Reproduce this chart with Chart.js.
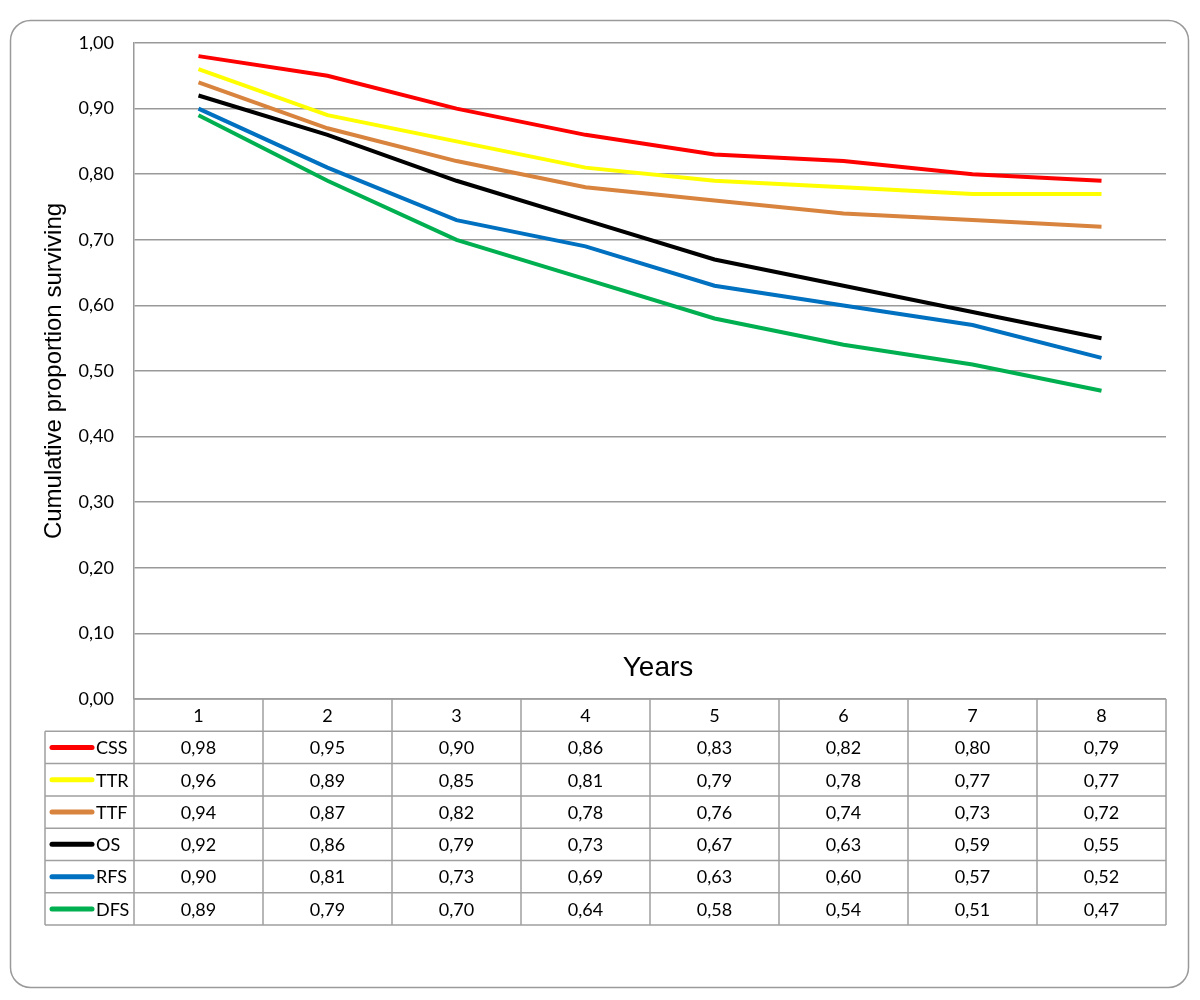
<!DOCTYPE html>
<html>
<head>
<meta charset="utf-8">
<script src="https://cdn.jsdelivr.net/npm/chart.js@4/dist/chart.umd.min.js"></script>
<style>
  body { margin: 0; background: #fff; }
  #wrap { width: 1200px; height: 1000px; position: relative; }
</style>
</head>
<body>
<div id="wrap"><canvas id="myChart"></canvas></div>
<script>
'use strict';

// chart data
var years = ['1', '2', '3', '4', '5', '6', '7', '8'];
var seriesNames = ['CSS', 'TTR', 'TTF', 'OS', 'RFS', 'DFS'];
var css = [0.98, 0.95, 0.90, 0.86, 0.83, 0.82, 0.80, 0.79];
var ttr = [0.96, 0.89, 0.85, 0.81, 0.79, 0.78, 0.77, 0.77];
var ttf = [0.94, 0.87, 0.82, 0.78, 0.76, 0.74, 0.73, 0.72];
var os = [0.92, 0.86, 0.79, 0.73, 0.67, 0.63, 0.59, 0.55];
var rfs = [0.90, 0.81, 0.73, 0.69, 0.63, 0.60, 0.57, 0.52];
var dfs = [0.89, 0.79, 0.70, 0.64, 0.58, 0.54, 0.51, 0.47];
var seriesValues = [css, ttr, ttf, os, rfs, dfs];
var seriesColors = ['#ff0000', '#ffff00', '#d8843e', '#000000', '#0070c0', '#00b050'];

var gridColor = '#999999';
var tableFont = '18px Lato, "Open Sans", sans-serif';

function fmt(v) {
    return v.toFixed(2).replace('.', ',');
}

// outer frame, "Years" label and the data table under the plot
var tablePlugin = {
    id: 'dataTable',
    beforeDraw: function (chart) {
        var c = chart.ctx;
        c.save();
        c.strokeStyle = '#9a9a9a';
        c.lineWidth = 1.5;
        c.beginPath();
        c.roundRect(10.5, 20.5, 1178, 967, 20);
        c.stroke();
        c.restore();
    },
    afterDraw: function (chart) {
        var c = chart.ctx;
        var area = chart.chartArea;
        var x = chart.scales.x;
        var colW = (area.right - area.left) / years.length;
        var rowH = 32.3;
        var top = area.bottom;
        var keyLeft = 45;

        c.save();
        // axis title inside plot
        c.fillStyle = '#000';
        c.font = '28px "Liberation Sans", Arial, sans-serif';
        c.textAlign = 'center';
        c.textBaseline = 'middle';
        c.fillText('Years', 658, 668);

        // table lines
        c.strokeStyle = '#a0a0a0';
        c.lineWidth = 1.5;
        c.beginPath();
        var bottom = top + rowH * (seriesNames.length + 1);
        c.moveTo(area.left, top);
        c.lineTo(area.right, top);
        for (var r = 1; r <= seriesNames.length + 1; r++) {
            c.moveTo(keyLeft, top + rowH * r);
            c.lineTo(area.right, top + rowH * r);
        }
        c.moveTo(keyLeft, top + rowH);
        c.lineTo(keyLeft, bottom);
        for (var k = 0; k <= years.length; k++) {
            var vx = area.left + colW * k;
            c.moveTo(vx, top);
            c.lineTo(vx, bottom);
        }
        c.stroke();

        // header
        c.font = tableFont;
        c.fillStyle = '#000';
        c.textAlign = 'center';
        c.textBaseline = 'middle';
        years.forEach(function (y, i) {
            c.fillText(y, x.getPixelForValue(i), top + rowH / 2 + 1);
        });

        // rows
        seriesNames.forEach(function (name, s) {
            var cy = top + rowH * (s + 1) + rowH / 2 + 1;
            c.strokeStyle = seriesColors[s];
            c.lineWidth = 5;
            c.lineCap = 'round';
            c.beginPath();
            c.moveTo(52, cy - 1);
            c.lineTo(92, cy - 1);
            c.stroke();
            c.textAlign = 'left';
            c.fillText(name, 96, cy);
            c.textAlign = 'center';
            seriesValues[s].forEach(function (v, i) {
                c.fillText(fmt(v), x.getPixelForValue(i), cy);
            });
        });
        c.restore();
    }
};

var ctx = document.getElementById('myChart').getContext('2d');
var chart = new Chart(ctx, {
    type: 'line',
    data: {
        labels: years,
        datasets: seriesNames.map(function (name, i) {
            return {
                label: name,
                data: seriesValues[i],
                borderColor: seriesColors[i],
                backgroundColor: seriesColors[i],
                borderWidth: 4,
                pointRadius: 0,
                tension: 0,
                fill: false
            };
        })
    },
    options: {
        responsive: true,
        maintainAspectRatio: false,
        animation: false,
        layout: { padding: { left: 0, top: 43, right: 34, bottom: 301 } },
        plugins: {
            legend: { display: false },
            tooltip: { enabled: false }
        },
        scales: {
            x: {
                display: false,
                offset: true
            },
            y: {
                min: 0,
                max: 1,
                afterFit: function (scale) { scale.width = 134; },
                ticks: {
                    stepSize: 0.1,
                    padding: 20,
                    color: '#000',
                    font: { family: 'Lato, "Open Sans", sans-serif', size: 18 },
                    callback: function (v) { return fmt(v); }
                },
                grid: { color: gridColor, lineWidth: 1.5, drawTicks: false },
                border: { display: true, color: gridColor, width: 1.5 },
                title: {
                    display: true,
                    text: 'Cumulative proportion surviving',
                    color: '#000',
                    font: { family: '"Liberation Sans", Arial, sans-serif', size: 24 },
                    padding: { top: 40, bottom: 0 }
                }
            }
        }
    },
    plugins: [tablePlugin]
});
</script>
</body>
</html>
